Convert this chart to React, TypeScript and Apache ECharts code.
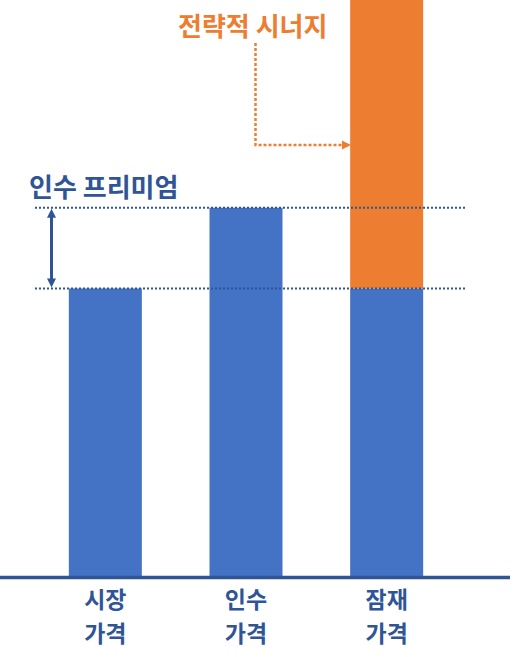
import React, { useEffect, useRef } from "react";
import * as echarts from "echarts";

const categoryTop = ["시장", "인수", "잠재"];
const categoryBottom = ["가격", "가격", "가격"];
const baseValues = [100, 128, 100];
const synergyValues: (number | string)[] = ["-", "-", 130];
const premiumLabel = "인수 프리미엄";
const synergyLabel = "전략적 시너지";

const BLUE = "#4472C4";
const ORANGE = "#ED7D31";
const NAVY = "#2F5597";
const FONT = "'Noto Sans CJK KR', 'Noto Sans', sans-serif";

const labelStyle = {
  color: NAVY,
  fontSize: 23,
  fontWeight: "bold",
  lineHeight: 26,
  fontFamily: FONT,
};

export default function App() {
  const chartRef = useRef<HTMLDivElement>(null);

  useEffect(() => {
    if (!chartRef.current) return;
    const chart = echarts.init(chartRef.current, undefined, { renderer: "svg" });

    chart.setOption({
      animation: false,
      grid: { left: 35, right: 56, top: 0, bottom: 80 },
      xAxis: [
        {
          type: "category",
          data: categoryTop,
          axisLine: { show: false },
          axisTick: { show: false },
          axisLabel: { ...labelStyle, margin: 8 },
        },
        {
          type: "category",
          position: "bottom",
          data: categoryBottom,
          axisLine: { show: false },
          axisTick: { show: false },
          axisLabel: { ...labelStyle, margin: 42 },
        },
      ],
      yAxis: {
        type: "value",
        min: 0,
        max: 200,
        show: false,
        splitLine: { show: false },
      },
      series: [
        {
          type: "bar",
          stack: "total",
          barWidth: 73,
          itemStyle: { color: BLUE },
          data: baseValues,
        },
        {
          type: "bar",
          stack: "total",
          barWidth: 73,
          itemStyle: { color: ORANGE },
          data: synergyValues,
        },
      ],
    });

    // 축/보조선 위치는 스케일에서 계산
    const yZero = chart.convertToPixel({ gridIndex: 0 }, [0, 0])[1];
    const yBase = chart.convertToPixel({ gridIndex: 0 }, [0, baseValues[0]])[1];
    const yTop = chart.convertToPixel({ gridIndex: 0 }, [0, baseValues[1]])[1];
    const arrowX = 51.5;

    chart.setOption({
      graphic: [
        {
          type: "line",
          z: 100,
          shape: { x1: 0, y1: yZero + 0.5, x2: 510, y2: yZero + 0.5 },
          style: { stroke: NAVY, lineWidth: 3.5 },
        },
        {
          type: "line",
          z: 100,
          shape: { x1: 35, y1: yTop, x2: 465, y2: yTop },
          style: { stroke: NAVY, lineWidth: 2, lineDash: [2, 2] },
        },
        {
          type: "line",
          z: 100,
          shape: { x1: 35, y1: yBase, x2: 465, y2: yBase },
          style: { stroke: NAVY, lineWidth: 2, lineDash: [2, 2] },
        },
        {
          type: "line",
          z: 100,
          shape: { x1: arrowX, y1: yTop + 8, x2: arrowX, y2: yBase - 8 },
          style: { stroke: NAVY, lineWidth: 3 },
        },
        {
          type: "polygon",
          z: 100,
          shape: {
            points: [
              [arrowX, yTop + 1],
              [arrowX - 4.5, yTop + 10],
              [arrowX + 4.5, yTop + 10],
            ],
          },
          style: { fill: NAVY },
        },
        {
          type: "polygon",
          z: 100,
          shape: {
            points: [
              [arrowX, yBase - 1],
              [arrowX - 4.5, yBase - 10],
              [arrowX + 4.5, yBase - 10],
            ],
          },
          style: { fill: NAVY },
        },
        {
          type: "text",
          z: 100,
          style: {
            text: premiumLabel,
            x: 29,
            y: 185,
            verticalAlign: "middle",
            fill: NAVY,
            font: `bold 26px ${FONT}`,
          },
        },
        {
          type: "text",
          z: 100,
          style: {
            text: synergyLabel,
            x: 178,
            y: 24,
            verticalAlign: "middle",
            fill: ORANGE,
            font: `bold 26px ${FONT}`,
          },
        },
        {
          type: "polyline",
          z: 100,
          shape: {
            points: [
              [255.5, 43],
              [255.5, 145],
              [343, 145],
            ],
          },
          style: { stroke: ORANGE, lineWidth: 2.5, lineDash: [3, 2], fill: "none" },
        },
        {
          type: "polygon",
          z: 100,
          shape: {
            points: [
              [351, 145],
              [342, 140.5],
              [342, 149.5],
            ],
          },
          style: { fill: ORANGE },
        },
      ],
    });

    return () => chart.dispose();
  }, []);

  return (
    <div
      ref={chartRef}
      style={{ position: "absolute", left: 0, top: 0, width: 513, height: 657 }}
    />
  );
}
